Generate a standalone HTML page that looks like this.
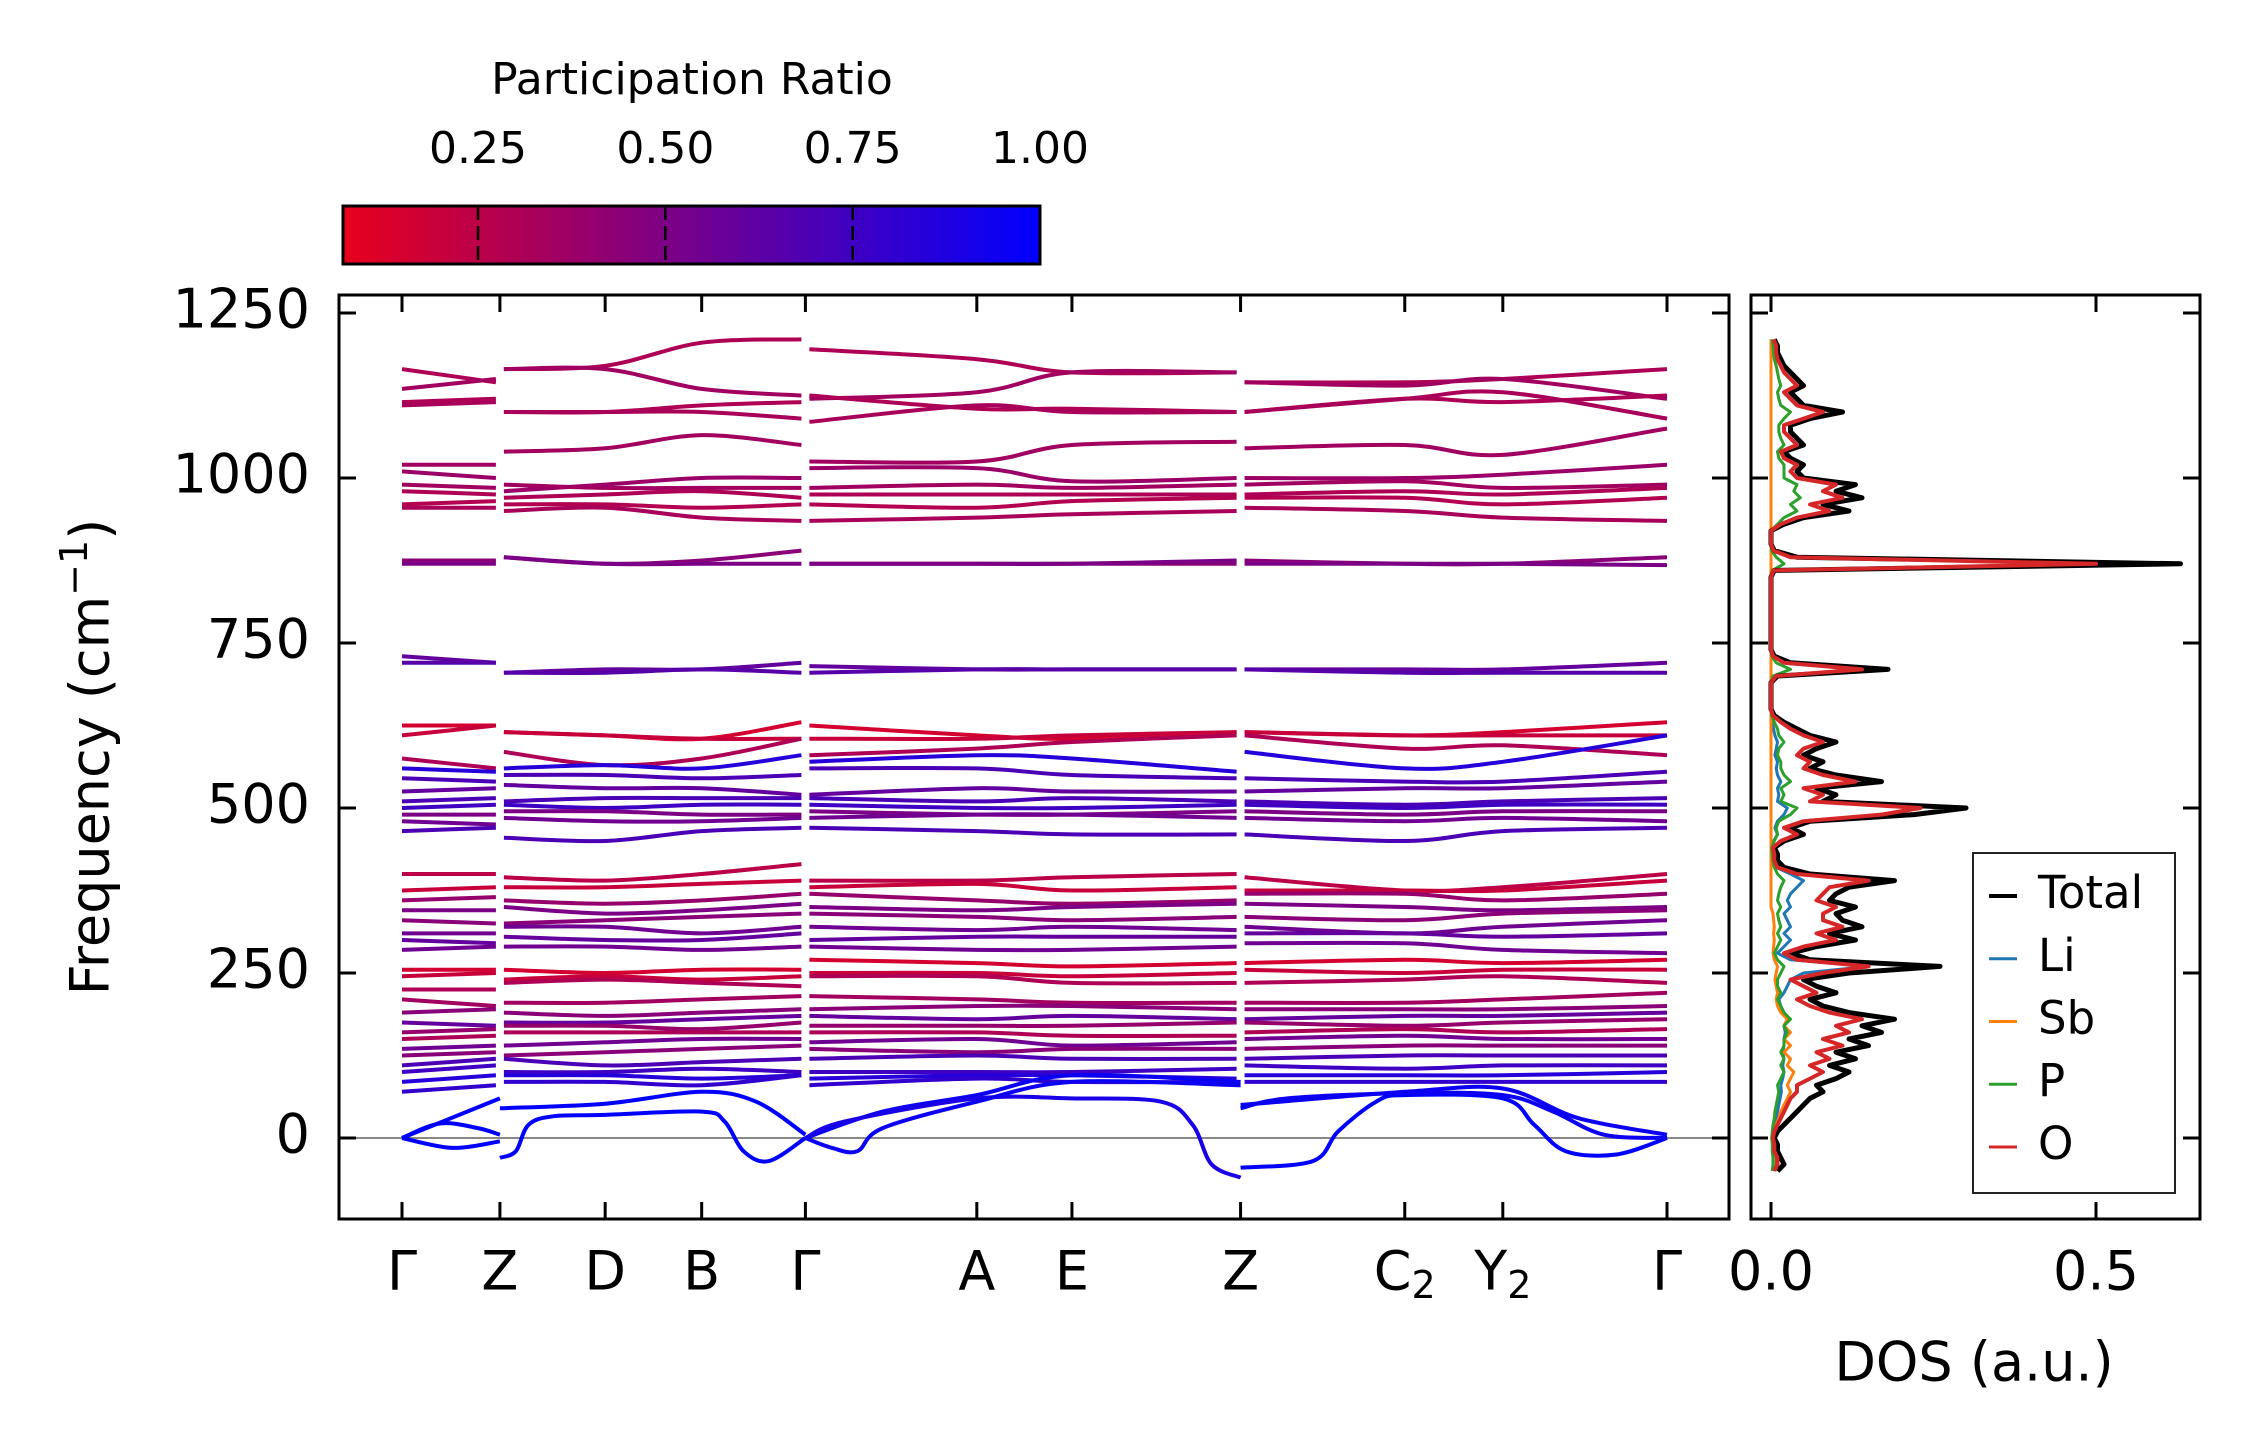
<!DOCTYPE html>
<html><head><meta charset="utf-8">
<style>
html,body{margin:0;padding:0;background:#fff;}
svg{display:block;font-family:"DejaVu Sans","Liberation Sans",sans-serif;}
</style></head>
<body>
<svg id="chart" width="2259" height="1455" viewBox="0 0 2259 1455" xmlns="http://www.w3.org/2000/svg">
<defs>
<linearGradient id="prgrad" x1="0" x2="1" y1="0" y2="0">
<stop offset="0" stop-color="#e8001c"/><stop offset="1" stop-color="#0000ff"/>
</linearGradient>
</defs>
<g id="cbar">
<text x="692" y="82" font-size="44" text-anchor="middle" dominant-baseline="middle">Participation Ratio</text>
<rect x="343" y="206" width="697" height="58" fill="url(#prgrad)" stroke="#000" stroke-width="3"/>
</g>
<g id="main"></g>
<g id="dos"></g>
</svg>
<script>
const kTickLabels=["Γ","Z","D","B","Γ","A","E","Z","C","Y","Γ"];
const kTickSubs=["","","","","","","","","2","2",""];
const kTicks=[0,.0774,.1606,.2369,.3189,.4544,.5296,.6629,.7927,.8702,1];
const yTicks=[0,250,500,750,1000,1250];
const cbTicks=[0.25,0.5,0.75,1.0];
const cbTickLabels=["0.25","0.50","0.75","1.00"];
const bandFreqs=[
[1165,1145,1165,1170,1205,1210,1195,1180,1160,1160,1145,1145,1150,1165],
[1135,1150,1165,1165,1135,1125,1120,1130,1160,1160,1145,1140,1150,1120],
[1115,1120,1100,1100,1110,1115,1125,1105,1105,1100,1100,1120,1115,1125],
[1110,1115,1100,1100,1100,1090,1085,1110,1100,1100,1100,1120,1130,1090],
[1020,1020,1040,1045,1065,1050,1025,1025,1050,1055,1045,1050,1035,1075],
[1010,1000,980,990,1000,1000,1015,1015,995,1000,1000,1000,1005,1020],
[990,985,990,985,985,985,985,990,985,990,990,995,985,990],
[980,975,970,975,980,970,975,975,975,975,975,980,975,985],
[960,965,960,960,955,960,960,955,965,970,970,970,960,970],
[955,955,950,955,940,935,935,940,945,950,955,950,940,935],
[875,875,880,870,875,890,870,870,870,870,875,870,870,880],
[870,870,880,870,870,870,870,870,870,875,870,870,870,868],
[730,720,705,710,710,720,715,710,710,710,710,710,710,720],
[720,720,705,705,710,705,705,710,710,710,710,705,705,705],
[625,625,615,610,605,630,625,610,605,615,615,610,615,630],
[610,625,615,610,605,605,605,605,610,615,615,610,610,610],
[575,560,585,565,575,605,580,590,600,610,610,590,595,580],
[560,555,560,565,560,580,570,580,575,555,585,560,570,610],
[545,540,550,550,545,550,560,560,550,545,545,540,540,555],
[525,530,535,530,530,520,520,530,525,525,525,530,530,540],
[510,515,510,515,515,515,515,510,515,510,510,505,510,515],
[500,505,505,500,505,505,505,500,500,505,505,500,505,505],
[490,490,495,495,490,490,495,490,490,495,495,490,495,495],
[480,475,485,480,480,485,485,490,490,485,485,480,485,480],
[465,470,455,450,465,470,470,465,460,460,460,450,465,470],
[400,400,395,390,400,415,390,390,395,400,395,375,380,400],
[375,380,380,380,385,390,380,385,375,380,375,375,375,390],
[360,365,360,355,360,370,370,360,355,360,370,370,360,370],
[345,345,350,340,345,355,350,345,350,355,355,350,345,350],
[330,325,325,330,335,340,340,335,330,335,335,330,340,345],
[310,310,320,320,310,320,320,315,320,315,320,310,320,330],
[300,295,305,300,300,310,300,305,305,305,310,310,305,310],
[285,290,290,290,285,290,290,285,285,290,295,295,285,280],
[255,255,255,250,255,255,270,265,260,265,265,270,265,270],
[245,250,240,245,240,245,250,250,245,250,255,250,255,255],
[225,225,235,240,235,230,245,245,235,235,235,240,245,235],
[210,200,205,205,210,215,215,210,205,205,205,205,210,220],
[190,195,190,185,190,195,195,200,200,195,195,195,195,200],
[175,170,175,175,180,185,185,180,185,180,180,185,185,190],
[160,165,170,170,165,175,170,170,170,175,175,170,175,180],
[150,155,160,160,160,160,160,160,155,155,160,165,160,165],
[135,140,140,145,150,150,145,150,140,145,150,155,150,150],
[125,130,125,130,135,140,135,130,135,135,135,140,140,140],
[110,120,120,110,115,120,120,125,120,120,120,125,125,125],
[100,110,100,100,105,100,100,100,100,105,110,105,110,110],
[85,95,95,95,90,95,90,95,95,90,95,95,95,100],
[70,80,85,85,80,95,80,90,85,85,85,85,85,85]
];
const bandPR=[.3,.35,.3,.32,.35,.38,.35,.3,.28,.32,.45,.5,.6,.65,.15,.2,.3,.85,.7,.6,.7,.75,.5,.55,.7,.25,.2,.4,.5,.45,.55,.6,.55,.15,.2,.3,.35,.45,.6,.4,.3,.55,.45,.7,.75,.85,.8];
const acK=[
[0,.0774],[.0774,.1606,.2369,.28,.3189],[.3189,.38,.4544,.5296,.6629],[.6629,.7927,.8702,.93,1],
[0,.03,.06,.0774],[.0774,.09,.1,.12,.1606,.2369,.255,.27,.29,.3189],[.3189,.35,.4544,.5296,.6,.625,.64,.6629],[.6629,.72,.74,.77,.7927,.8702,.895,.92,.96,1],
[0,.04,.0774],[.3189,.34,.36,.38,.4544,.5296,.6629],[.6629,.7,.7927,.8702,.91,.95,1]
];
const acF=[
[0,60],[45,52,70,55,5],[0,40,65,95,85],[50,70,75,30,5],
[0,22,15,5],[-30,-20,20,33,35,40,25,-20,-35,0],[0,25,60,60,55,20,-40,-60],[-45,-35,10,55,65,60,20,-20,-25,0],
[0,-15,-5],[0,-15,-20,15,55,85,80],[45,60,68,65,40,5,0]
];
const acPR=[1,1,.95,.95,1,1,.9,1,1,.95,.95];
const dosTotal=[.01,.02,.015,.01,.01,.005,.01,.02,.03,.04,
.05,.06,.08,.07,.10,.12,.09,.13,.10,.15,
.12,.17,.14,.19,.12,.08,.06,.10,.07,.05,
.12,.26,.06,.03,.07,.13,.09,.14,.11,.10,
.13,.09,.10,.12,.19,.06,.02,.01,.01,.005,
.02,.05,.03,.06,.22,.30,.08,.10,.07,.17,
.10,.06,.08,.05,.07,.10,.06,.04,.02,.005,
0,0,0,0,0,.01,.18,.03,.005,0,
0,0,0,0,0,0,0,0,0,0,
0,.005,.63,.04,.005,0,0,0,.02,.05,
.12,.08,.14,.10,.13,.05,.04,.05,.03,.02,
.05,.04,.03,.03,.06,.11,.05,.04,.03,.05,
.04,.03,.02,.015,.01,.01,.005];
const dosO=[.005,.01,.01,.005,.005,.003,.005,.01,.015,.02,
.025,.03,.04,.04,.06,.08,.06,.09,.07,.11,
.08,.12,.10,.14,.09,.06,.04,.07,.05,.03,
.08,.15,.04,.02,.05,.10,.07,.11,.08,.08,
.10,.07,.08,.09,.15,.04,.01,.005,.005,.003,
.015,.04,.02,.05,.17,.23,.06,.08,.05,.13,
.08,.05,.06,.04,.05,.08,.05,.03,.015,.003,
0,0,0,0,0,.008,.14,.02,.003,0,
0,0,0,0,0,0,0,0,0,0,
0,.004,.50,.03,.004,0,0,0,.015,.04,
.09,.06,.11,.08,.10,.04,.03,.04,.02,.015,
.04,.03,.02,.02,.05,.08,.04,.03,.02,.04,
.03,.02,.015,.01,.008,.008,.004];
const dosP=[.002,.003,.003,.002,.002,.001,.002,.003,.005,.006,
.008,.01,.012,.01,.015,.02,.015,.02,.015,.02,
.02,.025,.02,.03,.02,.015,.01,.015,.01,.01,
.015,.02,.01,.005,.01,.015,.01,.015,.012,.01,
.015,.01,.012,.015,.02,.01,.005,.003,.002,.001,
.005,.01,.008,.012,.03,.04,.015,.02,.015,.03,
.02,.015,.015,.01,.012,.02,.012,.01,.005,.001,
0,0,0,0,0,.003,.03,.008,.001,0,
0,0,0,0,0,0,0,0,0,0,
0,.002,.02,.008,.001,0,0,0,.01,.02,
.04,.03,.045,.035,.04,.02,.02,.02,.012,.01,
.02,.015,.012,.012,.02,.03,.015,.012,.01,.015,
.012,.01,.008,.005,.004,.003,.002];
const dosLi=[.003,.005,.005,.004,.004,.002,.004,.006,.008,.01,
.012,.014,.016,.015,.018,.02,.018,.02,.018,.02,
.02,.022,.02,.025,.02,.015,.012,.02,.025,.03,
.05,.15,.03,.01,.02,.03,.02,.03,.025,.02,
.03,.025,.03,.04,.05,.03,.008,.003,.002,.001,
.004,.01,.006,.01,.02,.025,.01,.012,.01,.015,
.01,.008,.01,.006,.008,.01,.006,.004,.002,0];
const dosSb=[.002,.004,.004,.003,.003,.002,.004,.008,.012,.015,
.02,.025,.03,.025,.03,.035,.025,.03,.02,.03,
.02,.03,.02,.025,.015,.01,.008,.01,.008,.006,
.008,.01,.005,.003,.004,.005,.004,.005,.004,.003];
const legendLabels=["Total","Li","Sb","P","O"];
const legendColors=["#000000","#1f77b4","#ff7f0e","#2ca02c","#d62728"];

const NS="http://www.w3.org/2000/svg";
const AX={l:339,r:1729,t:295,b:1219};
const DX={l:1751,r:2200};
const xK=k=>402+k*(1667-402);
const yF=f=>1138-f*0.66;
const xD=v=>1771+v*650;
const xCB=v=>1040-(1-v)*(1040-478)/0.75;
function prColor(p){const t=Math.max(0,Math.min(1,(p-0.068)/(1-0.068)));
 return `rgb(${Math.round(232*(1-t))},0,${Math.round(28+(255-28)*t)})`;}
function mk(tag,attrs,parent){const e=document.createElementNS(NS,tag);for(const a in attrs)e.setAttribute(a,attrs[a]);parent.appendChild(e);return e;}
function smooth(pts){let d=`M${pts[0][0].toFixed(1)},${pts[0][1].toFixed(1)}`;
 for(let i=0;i<pts.length-1;i++){const p0=pts[Math.max(0,i-1)],p1=pts[i],p2=pts[i+1],p3=pts[Math.min(pts.length-1,i+2)];
  const c1=[p1[0]+(p2[0]-p0[0])/6,p1[1]+(p2[1]-p0[1])/6],c2=[p2[0]-(p3[0]-p1[0])/6,p2[1]-(p3[1]-p1[1])/6];
  d+=`C${c1[0].toFixed(1)},${c1[1].toFixed(1)} ${c2[0].toFixed(1)},${c2[1].toFixed(1)} ${p2[0].toFixed(1)},${p2[1].toFixed(1)}`;}
 return d;}

const cb=document.getElementById('cbar');
cbTicks.forEach((v,i)=>{
 const l=mk('line',{x1:xCB(v),x2:xCB(v),y1:206,y2:264,stroke:'#000','stroke-width':2.5,'stroke-dasharray':'14,6'},cb);
 
 
 const t=mk('text',{x:xCB(v),y:151,'font-size':44,'text-anchor':'middle','dominant-baseline':'middle'},cb);
 t.textContent=cbTickLabels[i];
 
 
});

const g=document.getElementById('main');
const clip=mk('clipPath',{id:'mclip'},g);mk('rect',{x:AX.l,y:AX.t,width:AX.r-AX.l,height:AX.b-AX.t},clip);
const bandsG=mk('g',{'clip-path':'url(#mclip)'},g);


const zl=mk('line',{x1:AX.l,x2:AX.r,y1:yF(0),y2:yF(0),stroke:'#888','stroke-width':2},bandsG);


const segTicks=[[0,1],[1,2,3,4],[4,5,6,7],[7,8,9,10]];
const segOff=[0,2,6,10];
bandFreqs.forEach((b,bi)=>{
 segTicks.forEach((st,si)=>{
  const pts=st.map((ti,j)=>[xK(kTicks[ti])+(j===0&&si>0?4:0)-(j===st.length-1&&si<3?4:0),yF(b[segOff[si]+j])]);
  const p=mk('path',{d:smooth(pts),fill:'none',stroke:prColor(bandPR[bi]),'stroke-width':4},bandsG);
  
  
 });
});
acK.forEach((ks,ci)=>{
 const pts=ks.map((k,j)=>[xK(k),yF(acF[ci][j])]);
 const p=mk('path',{d:smooth(pts),fill:'none',stroke:prColor(acPR[ci]),'stroke-width':4},bandsG);
 
 
});
const frame=mk('rect',{x:AX.l,y:AX.t,width:AX.r-AX.l,height:AX.b-AX.t,fill:'none',stroke:'#000','stroke-width':3},g);


kTicks.forEach((k,i)=>{
 mk('line',{x1:xK(k),x2:xK(k),y1:AX.b,y2:AX.b-17,stroke:'#000','stroke-width':3},g);
 mk('line',{x1:xK(k),x2:xK(k),y1:AX.t,y2:AX.t+17,stroke:'#000','stroke-width':3},g);
 const t=mk('text',{x:xK(k),y:1275,'font-size':54,'text-anchor':'middle','dominant-baseline':'middle'},g);
 t.textContent=kTickLabels[i];
 if(kTickSubs[i]){const s=mk('tspan',{'font-size':38,dy:12},t);s.textContent=kTickSubs[i];}
 
 
});
yTicks.forEach(v=>{
 mk('line',{x1:AX.l,x2:AX.l+17,y1:yF(v),y2:yF(v),stroke:'#000','stroke-width':3},g);
 mk('line',{x1:AX.r,x2:AX.r-17,y1:yF(v),y2:yF(v),stroke:'#000','stroke-width':3},g);
 const t=mk('text',{x:310,y:yF(v),'font-size':54,'text-anchor':'end','dominant-baseline':'middle'},g);
 t.textContent=String(v);
 
 
});
const yl=mk('text',{x:94,y:757,'font-size':54,'text-anchor':'middle','dominant-baseline':'middle',transform:'rotate(-90 94 757)'},g);
yl.innerHTML='Frequency (cm<tspan font-size="38" dy="-18">−1</tspan><tspan dy="18">)</tspan>';



const d=document.getElementById('dos');
const clip2=mk('clipPath',{id:'dclip'},d);mk('rect',{x:DX.l,y:AX.t,width:DX.r-DX.l,height:AX.b-AX.t},clip2);
const dl=mk('g',{'clip-path':'url(#dclip)'},d);
const series=[[dosLi,1],[dosSb,2],[dosP,3],[dosTotal,0],[dosO,4]];
const dosNames=['dos-li','dos-sb','dos-p','dos-total','dos-o'];
series.forEach(([arr,ci],si)=>{
 let pts=[];for(let i=0;i<dosTotal.length;i++){pts.push(xD(arr[i]||0).toFixed(1)+','+yF(-50+10*i).toFixed(1));}
 const p=mk('polyline',{points:pts.join(' '),fill:'none',stroke:legendColors[ci],'stroke-width':ci===0?5:(ci===4?4:3),'stroke-linejoin':'round'},dl);
 
 
});
const f2=mk('rect',{x:DX.l,y:AX.t,width:DX.r-DX.l,height:AX.b-AX.t,fill:'none',stroke:'#000','stroke-width':3},d);


yTicks.forEach(v=>{
 mk('line',{x1:DX.l,x2:DX.l+17,y1:yF(v),y2:yF(v),stroke:'#000','stroke-width':3},d);
 mk('line',{x1:DX.r,x2:DX.r-17,y1:yF(v),y2:yF(v),stroke:'#000','stroke-width':3},d);
});
[0,0.5].forEach(v=>{
 mk('line',{x1:xD(v),x2:xD(v),y1:AX.b,y2:AX.b-17,stroke:'#000','stroke-width':3},d);
 mk('line',{x1:xD(v),x2:xD(v),y1:AX.t,y2:AX.t+17,stroke:'#000','stroke-width':3},d);
 const t=mk('text',{x:xD(v),y:1275,'font-size':54,'text-anchor':'middle','dominant-baseline':'middle'},d);
 t.textContent=v.toFixed(1);
 
 
});
const xl=mk('text',{x:1974,y:1366,'font-size':54,'text-anchor':'middle','dominant-baseline':'middle'},d);
xl.textContent='DOS (a.u.)';


const lg=mk('g',{},d);


mk('rect',{x:1973,y:853,width:202,height:340,fill:'#fff',stroke:'#222','stroke-width':2},lg);
legendLabels.forEach((lab,i)=>{
 const y=896+i*62.75;
 mk('line',{x1:1989,x2:2017,y1:y,y2:y,stroke:legendColors[i],'stroke-width':i===0?4:3},lg);
 const t=mk('text',{x:2038,y:y,'font-size':45,'dominant-baseline':'middle'},lg);
 t.textContent=lab;
 
 
});
</script>
</body></html>
